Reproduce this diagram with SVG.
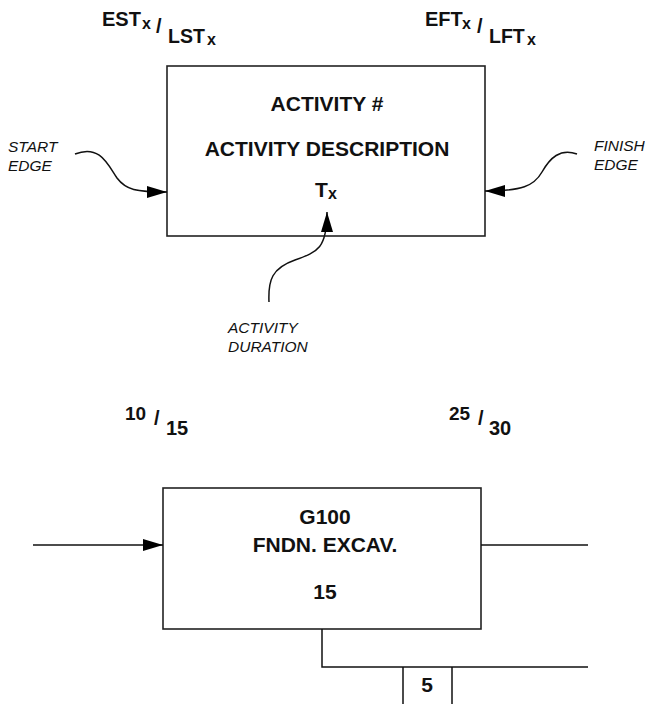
<svg xmlns="http://www.w3.org/2000/svg" width="645" height="704" viewBox="0 0 645 704">
<style>
  .box { fill: #fff; stroke: #222; stroke-width: 1.6; }
  .line { fill: none; stroke: #111; stroke-width: 1.5; }
  .b { font-family: "Liberation Sans", Arial, sans-serif; font-weight: bold; fill: #111; }
  .c { text-anchor: middle; font-size: 21px; }
  .lbl { font-family: "Liberation Sans", Arial, sans-serif; font-style: italic; font-size: 15.5px; fill: #111; }
</style>
<defs>
  <marker id="arr" viewBox="0 0 20 12" refX="20" refY="6" markerWidth="20" markerHeight="12" markerUnits="userSpaceOnUse" orient="auto">
    <path d="M0,0 L20,6 L0,12 z" fill="#000"/>
  </marker>
</defs>

<!-- Top legend -->
<g id="legend-start-times">
  <text class="b" x="102" y="26" font-size="20">EST</text>
  <text class="b" x="142" y="29" font-size="16">x</text>
  <text class="b" x="156" y="33" font-size="20">/</text>
  <text class="b" x="168" y="43" font-size="19.5">LST</text>
  <text class="b" x="207" y="45" font-size="16">x</text>
</g>
<g id="legend-finish-times">
  <text class="b" x="425" y="26" font-size="20">EFT</text>
  <text class="b" x="462" y="29" font-size="16">x</text>
  <text class="b" x="477" y="33" font-size="20">/</text>
  <text class="b" x="489" y="43" font-size="19.5">LFT</text>
  <text class="b" x="527" y="45" font-size="16">x</text>
</g>
<g id="legend-activity">
  <rect class="box" x="167" y="66" width="318" height="170"/>
  <text class="b c" x="327" y="111">ACTIVITY #</text>
  <text class="b c" x="327" y="156">ACTIVITY DESCRIPTION</text>
  <text class="b" x="315" y="197" font-size="21">T</text>
  <text class="b" x="328" y="199" font-size="16">x</text>
</g>
<g id="label-start-edge">
  <text class="lbl" x="8" y="152">START</text>
  <text class="lbl" x="8" y="171">EDGE</text>
</g>
<g id="label-finish-edge">
  <text class="lbl" x="594" y="151">FINISH</text>
  <text class="lbl" x="594" y="170">EDGE</text>
</g>
<g id="label-duration">
  <text class="lbl" x="228" y="333">ACTIVITY</text>
  <text class="lbl" x="228" y="352">DURATION</text>
</g>

<!-- Example -->
<g id="example-start-times">
  <text class="b" x="125" y="420" font-size="19">10</text>
  <text class="b" x="154" y="425" font-size="20">/</text>
  <text class="b" x="166" y="435" font-size="20">15</text>
</g>
<g id="example-finish-times">
  <text class="b" x="449" y="420" font-size="19">25</text>
  <text class="b" x="478" y="425" font-size="20">/</text>
  <text class="b" x="489" y="435" font-size="20">30</text>
</g>
<g id="activity-G100">
  <rect class="box" x="163" y="488" width="318" height="141"/>
  <text class="b c" x="325" y="524">G100</text>
  <text class="b c" x="325" y="552">FNDN. EXCAV.</text>
  <text class="b c" x="325" y="599">15</text>
</g>
<g id="lag-box">
  <text class="b c" x="427" y="692">5</text>
</g>

<g id="connectors">
  <path class="line" d="M75,154 C100,144 108,165 117,178 C126,190 136,192 167,192" marker-end="url(#arr)"/>
  <path class="line" d="M577,154 C560,148 550,158 542,172 C534,186 522,191 485,191" marker-end="url(#arr)"/>
  <path class="line" d="M269,302 C268,280 272,268 295,260 C318,252 327,248 327,212" marker-end="url(#arr)"/>
  <path class="line" d="M33,545 L163,545" marker-end="url(#arr)"/>
  <path class="line" d="M481,545 L588,545"/>
  <path class="line" d="M322,629 L322,667 L588,667"/>
  <path class="line" d="M403,667 L403,704 M452,667 L452,704"/>
</g>
</svg>
